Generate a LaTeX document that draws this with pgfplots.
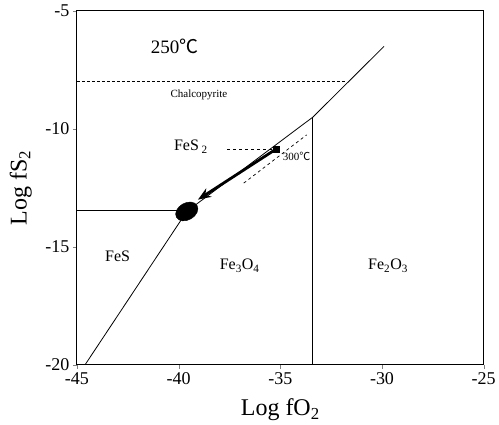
\documentclass[border=0pt]{standalone}
\usepackage{fontspec}
\setmainfont{Liberation Serif}
\newfontfamily\cjk{Noto Sans CJK SC}
\usepackage{pgfplots}
\pgfplotsset{compat=1.18}
\usetikzlibrary{arrows.meta}

\begin{document}
\begin{tikzpicture}
\begin{axis}[
    scale only axis,
    width=407pt, height=354pt,
    xmin=-45, xmax=-25, ymin=-20, ymax=-5,
    xtick={-45,-40,...,-25}, ytick={-20,-15,-10,-5},
    tick align=outside, tick pos=left,
    major tick length=4pt,
    /pgf/number format/assume math mode=true,
    tick label style={font=\fontsize{18}{19}\selectfont},
    xlabel={Log fO\textsubscript{2}},
    ylabel={Log fS\textsubscript{2}},
    xlabel style={font=\fontsize{24}{25}\selectfont, at={(axis description cs:0.5,-0.127)}, anchor=center},
    ylabel style={font=\fontsize{24}{25}\selectfont, at={(axis description cs:-0.138,0.5)}, anchor=center},
    axis line style={line width=1pt},
    clip=false
]
% phase boundaries
\addplot[black, line width=0.8pt] coordinates {(-44.6,-20) (-39.6,-13.5)};
\addplot[black, line width=0.8pt] coordinates {(-45,-13.45) (-39.6,-13.45)};
\addplot[black, line width=0.8pt] coordinates {(-39.6,-13.5) (-33.4,-9.5) (-29.9,-6.5)};
\addplot[black, line width=0.8pt] coordinates {(-33.4,-20) (-33.4,-9.5)};
% chalcopyrite limit
\addplot[black, line width=0.8pt, dash pattern=on 3pt off 2pt] coordinates {(-45,-7.97) (-31.8,-7.97)};
% 300 C boundary
\addplot[black, line width=0.7pt, dash pattern=on 3pt off 3pt] coordinates {(-37.6,-10.85) (-35.2,-10.85)};
\addplot[black, line width=0.7pt, dash pattern=on 3pt off 3pt] coordinates {(-36.8,-12.3) (-33.7,-10.25)};
% trend arrow
\addplot[black, line width=2.8pt, -{Stealth[length=13pt,width=10pt]}] coordinates {(-35.2,-10.85) (-39.05,-13.0)};
\addplot[only marks, mark=square*, mark size=2.8pt, black] coordinates {(-35.2,-10.85)};
\addplot[only marks, mark=*, mark size=8.5pt, black, mark options={rotate=30, xscale=1.4}] coordinates {(-39.6,-13.5)};
% labels
\node[font=\fontsize{19}{20}\selectfont] at (axis cs:-40.2,-6.5) {250{\cjk ℃}};
\node[font=\fontsize{11}{12}\selectfont] at (axis cs:-39.0,-8.56) {Chalcopyrite};
\node[font=\fontsize{16}{17}\selectfont] at (axis cs:-39.4,-10.75) {FeS\,\textsubscript{2}};
\node[font=\fontsize{11}{12}\selectfont] at (axis cs:-34.2,-11.15) {300{\cjk ℃}};
\node[font=\fontsize{16}{17}\selectfont] at (axis cs:-43.0,-15.4) {FeS};
\node[font=\fontsize{16}{17}\selectfont] at (axis cs:-37.0,-15.8) {Fe\textsubscript{3}O\textsubscript{4}};
\node[font=\fontsize{16}{17}\selectfont] at (axis cs:-29.7,-15.8) {Fe\textsubscript{2}O\textsubscript{3}};
\end{axis}
\path ([xshift=-77pt,yshift=-60pt]current axis.south west) ([xshift=15pt,yshift=11pt]current axis.north east);
\end{tikzpicture}
\end{document}
